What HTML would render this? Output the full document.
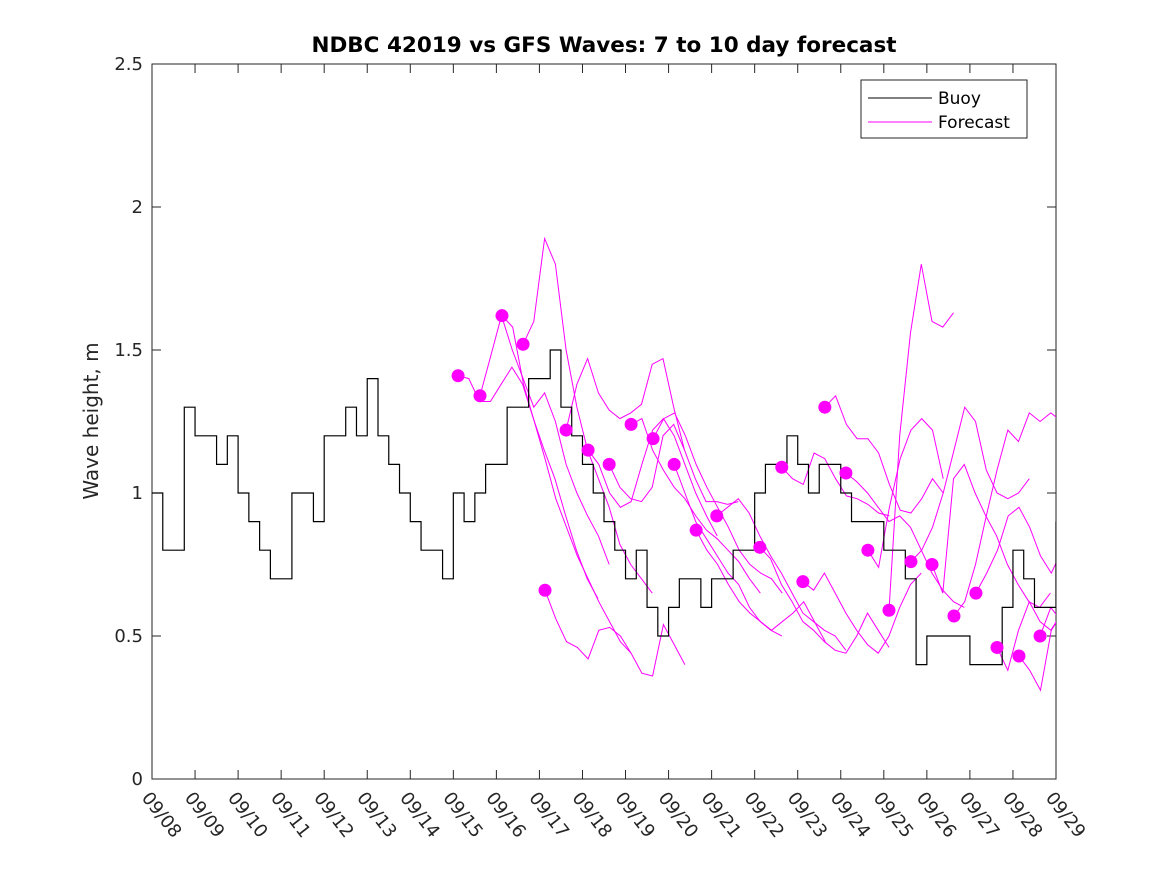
<!DOCTYPE html>
<html><head><meta charset="utf-8"><style>
body{margin:0;background:#fff;}
svg text{font-family:"DejaVu Sans","Liberation Sans",sans-serif;}
</style></head><body>
<svg id="chart" width="1167" height="875" xmlns="http://www.w3.org/2000/svg">
<defs><clipPath id="plotclip"><rect x="152" y="64" width="904" height="715"/></clipPath></defs>
<rect width="1167" height="875" fill="#fff"/>
<text x="604" y="52" text-anchor="middle" font-size="21.5" font-weight="bold" fill="#000">NDBC 42019 vs GFS Waves: 7 to 10 day forecast</text>
<text transform="translate(98,421) rotate(-90)" text-anchor="middle" font-size="20" fill="#262626">Wave height, m</text>
<g id="axes"></g>
<g id="series" clip-path="url(#plotclip)"></g>
<g>
<rect x="861" y="80" width="166" height="58" fill="#fff" stroke="#262626" stroke-width="1"/>
<line x1="868" y1="98" x2="932" y2="98" stroke="#000" stroke-width="1"/>
<text x="938" y="104" font-size="17" fill="#000">Buoy</text>
<line x1="868" y1="122" x2="932" y2="122" stroke="#f0f" stroke-width="1"/>
<text x="938" y="128" font-size="17" fill="#000">Forecast</text>
</g>
</svg>
<script>
const xTickLabels=["09/08","09/09","09/10","09/11","09/12","09/13","09/14","09/15","09/16","09/17","09/18","09/19","09/20","09/21","09/22","09/23","09/24","09/25","09/26","09/27","09/28","09/29"];
const yTicks=[0,0.5,1,1.5,2,2.5];
const yTickLabels=["0","0.5","1","1.5","2","2.5"];
const buoyStep=0.25;
const buoyValues=[1.0,0.8,0.8,1.3,1.2,1.2,1.1,1.2,1.0,0.9,0.8,0.7,0.7,1.0,1.0,0.9,1.2,1.2,1.3,1.2,1.4,1.2,1.1,1.0,0.9,0.8,0.8,0.7,1.0,0.9,1.0,1.1,1.1,1.3,1.3,1.4,1.4,1.5,1.3,1.2,1.1,1.0,0.9,0.8,0.7,0.8,0.6,0.5,0.6,0.7,0.7,0.6,0.7,0.7,0.8,0.8,1.0,1.1,1.1,1.2,1.1,1.0,1.1,1.1,1.0,0.9,0.9,0.9,0.8,0.8,0.7,0.4,0.5,0.5,0.5,0.5,0.4,0.4,0.4,0.6,0.8,0.7,0.6,0.6,0.9];
const forecastStep=0.25;
const forecastStarts=[7.11,7.62,8.13,8.62,9.13,9.62,10.13,10.62,11.13,11.64,12.13,12.64,13.12,14.12,14.63,15.12,15.63,16.12,16.63,17.12,17.63,18.12,18.63,19.14,19.63,20.14,20.63];
const forecastValues=[
[1.41,1.40,1.32,1.32,1.38,1.44,1.38,1.26,1.15,1.05,0.92,0.80,0.70,0.63],
[1.34,1.48,1.62,1.50,1.40,1.30,1.35,1.25,1.10,1.00,0.92,0.85,0.75],
[1.62,1.58,1.38,1.25,1.12,0.98,0.88,0.78,0.70,0.62,0.55,0.48,0.44],
[1.52,1.60,1.89,1.80,1.50,1.30,1.15,1.05,0.95,0.82,0.75,0.70,0.65],
[0.66,0.56,0.48,0.46,0.42,0.52,0.53,0.50,0.44,0.37,0.36,0.54,0.47,0.40],
[1.22,1.38,1.47,1.35,1.29,1.26,1.28,1.31,1.45,1.47,1.30,1.15],
[1.15,1.10,1.00,0.95,0.97,1.10,1.22,1.26,1.20,1.10,1.00,0.92,0.85],
[1.10,1.02,0.98,0.97,1.02,1.20,1.24,1.15,1.05,0.97,0.97,0.96,0.97],
[1.24,1.26,1.15,1.08,1.02,0.98,0.92,0.87,0.84,0.80,0.76,0.70,0.65],
[1.19,1.26,1.28,1.20,1.10,1.02,0.95,0.88,0.80,0.75,0.72,0.70,0.65],
[1.10,1.00,0.90,0.84,0.78,0.72,0.68,0.60,0.55,0.52,0.50],
[0.87,0.80,0.75,0.68,0.62,0.58,0.55,0.52,0.55,0.58,0.62,0.55,0.48],
[0.92,0.95,0.98,0.93,0.85,0.78,0.72,0.65,0.58,0.55,0.52,0.50,0.45],
[0.81,0.77,0.68,0.62,0.55,0.52,0.48,0.45,0.44,0.50,0.58,0.52,0.46],
[1.09,1.05,1.03,1.14,1.12,1.05,0.99,0.98,0.96,0.93,0.92],
[0.69,0.66,0.72,0.65,0.58,0.52,0.47,0.44,0.50,0.60,0.68,0.72],
[1.30,1.34,1.24,1.19,1.19,1.14,1.03,0.94,0.93,0.98,1.05,1.00],
[1.07,1.04,1.00,0.95,0.90,0.92,0.88,0.80,0.72,0.66,0.62,0.60],
[0.80,0.74,0.95,1.12,1.22,1.26,1.22,1.05],
[0.59,1.20,1.56,1.80,1.60,1.58,1.63],
[0.76,0.80,0.88,1.00,1.15,1.30,1.25,1.08,1.00,0.98,1.00,1.05],
[0.75,0.65,1.05,1.10,1.00,0.92,0.85,0.75,0.68,0.62,0.60,0.65],
[0.57,0.62,0.75,0.92,1.08,1.22,1.18,1.28,1.25,1.28,1.25,1.30],
[0.65,0.72,0.80,0.92,0.95,0.88,0.78,0.72,0.80,0.86,0.92,1.00,1.05],
[0.46,0.38,0.52,0.62,0.55,0.52,0.58,0.75,0.80,0.76,0.77],
[0.43,0.38,0.31,0.52,0.58,0.55,0.57],
[0.50,0.60,0.55,0.45]
];

const X0=152,X1=1056,Y0=779,Y1=64,DAYS=21,YMAX=2.5;
const xs=d=>X0+(X1-X0)*d/DAYS;
const ys=v=>Y0-(Y0-Y1)*v/YMAX;
const NS="http://www.w3.org/2000/svg";
function mk(tag,attrs,parent){const e=document.createElementNS(NS,tag);for(const k in attrs)e.setAttribute(k,attrs[k]);parent.appendChild(e);return e;}
const axes=document.getElementById('axes');
const series=document.getElementById('series');

const frame=mk('rect',{x:X0,y:Y1,width:X1-X0,height:Y0-Y1,fill:'none',stroke:'#262626','stroke-width':1},axes);



xTickLabels.forEach((lab,i)=>{
  const x=xs(i);
  const t1=mk('line',{x1:x,y1:Y0,x2:x,y2:Y0-9,stroke:'#262626'},axes);
  
  
  const t2=mk('line',{x1:x,y1:Y1,x2:x,y2:Y1+9,stroke:'#262626'},axes);
  
  
  const tx=mk('text',{transform:`translate(${x-11},${Y0+19}) rotate(52)`,'font-size':'18',fill:'#262626'},axes);
  tx.textContent=lab;
  
  
});
yTicks.forEach((v,i)=>{
  const y=ys(v);
  const t1=mk('line',{x1:X0,y1:y,x2:X0+9,y2:y,stroke:'#262626'},axes);
  
  
  const t2=mk('line',{x1:X1,y1:y,x2:X1-9,y2:y,stroke:'#262626'},axes);
  
  
  const tx=mk('text',{x:X0-9,y:y+6,'text-anchor':'end','font-size':'18',fill:'#262626'},axes);
  tx.textContent=yTickLabels[i];
  
  
});

forecastStarts.forEach((s,i)=>{
  const pts=forecastValues[i].map((v,j)=>xs(s+j*forecastStep).toFixed(1)+','+ys(v).toFixed(1)).join(' ');
  const pl=mk('polyline',{points:pts,fill:'none',stroke:'#f0f','stroke-width':1},series);
  
  
});
let d='';
buoyValues.forEach((v,i)=>{
  const x=xs(i*buoyStep),y=ys(v);
  if(i===0)d+=`M${x},${y}`;else d+=`H${x}V${y}`;
});
d+=`H${xs(DAYS)}`;
const bp=mk('path',{d:d,fill:'none',stroke:'#000','stroke-width':1.2},series);


forecastStarts.forEach((s,i)=>{
  const c=mk('circle',{cx:xs(s),cy:ys(forecastValues[i][0]),r:6.5,fill:'#f0f'},series);
  
  
});
</script>
</body></html>
